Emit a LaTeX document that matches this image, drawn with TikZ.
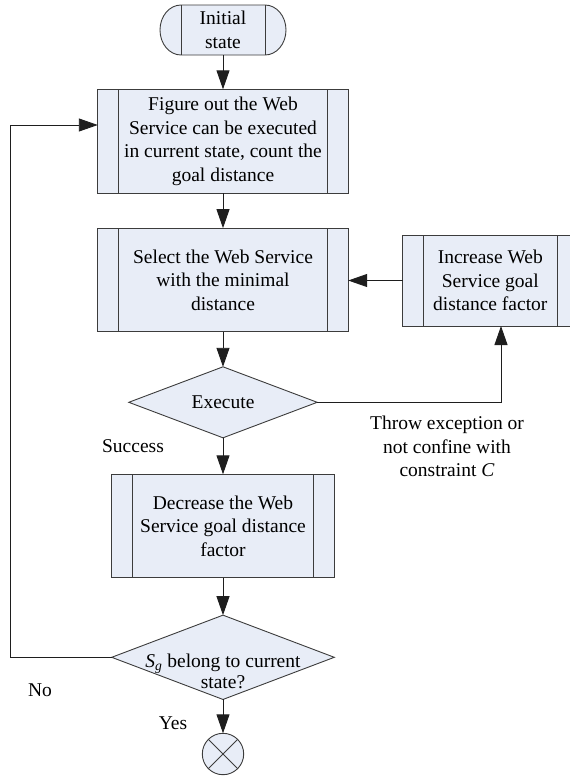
\documentclass[tikz,border=0pt]{standalone}
\usepackage{fontspec}
\setmainfont{Liberation Serif}
\usetikzlibrary{arrows.meta,shapes.geometric,backgrounds}
\definecolor{boxfill}{RGB}{232,237,247}
\definecolor{linec}{RGB}{60,60,60}
\definecolor{connc}{RGB}{30,30,30}
\tikzset{
 base/.style={font=\fontsize{19.5}{23.5}\selectfont},
 proc/.style={base, draw=linec, fill=boxfill, line width=0.9pt, align=center, inner sep=0pt, outer sep=0pt,
   path picture={\draw[linec, line width=0.9pt]
     ([xshift=21pt]path picture bounding box.north west) -- ([xshift=21pt]path picture bounding box.south west)
     ([xshift=-21pt]path picture bounding box.north east) -- ([xshift=-21pt]path picture bounding box.south east);}},
 dec/.style={diamond, draw=linec, fill=boxfill, line width=0.9pt, inner sep=0pt, outer sep=0pt},
 conn/.style={draw=connc, line width=0.9pt, -{Triangle[length=19pt,width=13pt]}},
 lbl/.style={base, align=center, inner sep=0pt}
}
\begin{document}
\begin{tikzpicture}[x=1pt,y=1pt]
\useasboundingbox (0,0) rectangle (570,-777);
\clip (0,0) rectangle (570,-777);

% terminator
\node[base, align=center, minimum width=84pt, minimum height=50pt, inner sep=0pt, outer sep=0pt] (init) at (223,-30) {Initial\\state};
\begin{scope}[on background layer]
\draw[linec, line width=0.9pt, fill=boxfill] (init.north west) -- (init.north east)
  arc[start angle=90, end angle=-90, x radius=21pt, y radius=25pt]
  -- (init.south west)
  arc[start angle=270, end angle=90, x radius=21pt, y radius=25pt] -- cycle;
\draw[linec, line width=0.9pt] (init.north west) -- (init.south west) (init.north east) -- (init.south east);
\end{scope}

% process boxes
\node[proc, minimum width=250.4pt, minimum height=104pt] (b1) at (223,-141.3)
  {Figure out the Web\\Service can be executed\\in current state, count the\\goal distance};
\node[proc, minimum width=250.4pt, minimum height=103.7pt] (b2) at (223,-280)
  {Select the Web Service\\with the minimal\\distance};
\node[proc, minimum width=175.3pt, minimum height=91pt] (b3) at (490.3,-280.5)
  {Increase Web\\Service goal\\distance factor};
\node[proc, minimum width=222.6pt, minimum height=103.4pt] (b4) at (223,-526)
  {Decrease the Web\\Service goal distance\\factor};

% decisions
\node[dec, minimum width=188.4pt, minimum height=71pt] (d1) at (223,-402.3) {};
\node[lbl] (t1) at (d1.center) {Execute};
\node[dec, minimum width=222.6pt, minimum height=84.3pt] (d2) at (223,-657.3) {};
\node[lbl, font=\fontsize{19.5}{21}\selectfont] (t2) at (223,-671) {\textit{S}\textsubscript{\textit{g}} belong to current\\state?};

% end
\node[circle, draw=linec, fill=boxfill, minimum size=41.4pt, inner sep=0pt, outer sep=0pt, line width=0.9pt] (e) at (223,-754) {};
\draw[linec, line width=0.9pt] (e.45) -- (e.225) (e.135) -- (e.-45);

% connectors
\draw[conn] (init.south) -- (b1.north);
\draw[conn] (b1.south) -- (b2.north);
\draw[conn] (b2.south) -- (d1.north);
\draw[conn] (d1.south) -- (b4.north);
\draw[conn] (b4.south) -- (d2.north);
\draw[conn] (d2.south) -- (e.north);
\draw[conn] (b3.west) -- (b3.west -| b2.east);
\draw[conn] (d1.east) -| ([xshift=10.7pt]b3.south);
\draw[conn] (d2.west) -- ++(-101.7,0) |- ([yshift=16.3pt]b1.west);

% labels
\node[lbl] (succ) at (133,-446) {Success};
\node[lbl] (thr) at (447,-446.7) {Throw exception or\\not confine with\\constraint \textit{C}};
\node[lbl] (no) at (40,-690) {No};
\node[lbl] (yes) at (173,-723) {Yes};
\end{tikzpicture}
\end{document}
